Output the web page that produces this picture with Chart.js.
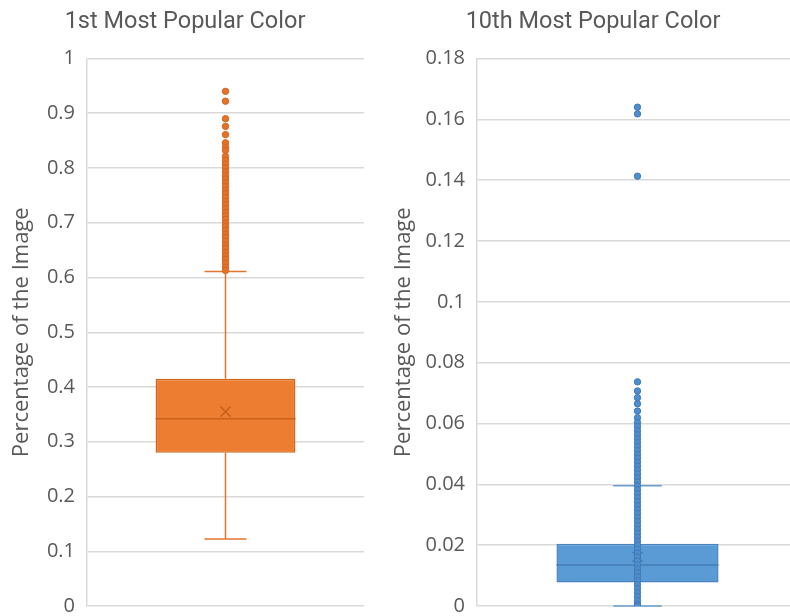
<!DOCTYPE html>
<html><head><meta charset="utf-8">
<script src="https://cdn.jsdelivr.net/npm/chart.js@4"></script>
<style>
html,body{margin:0;padding:0;background:#fff;overflow:hidden;width:790px;height:616px;position:relative}
#c1{position:absolute;left:0;top:0}
#c2{position:absolute;left:380px;top:0}
</style></head><body>
<canvas id="c1" width="370" height="616"></canvas>
<canvas id="c2" width="430" height="616"></canvas>
<script>
// ---- data ----
const chartTitles = ['1st Most Popular Color', '10th Most Popular Color'];
const axisTitle = 'Percentage of the Image';
const boxLow = [0.280, 0.0077];      // Q1
const boxHigh = [0.415, 0.0205];     // Q3
const medians = [0.342, 0.0135];
const means = [0.355, 0.0162];
const whiskerLow = [0.1225, 0.0];
const whiskerHigh = [0.611, 0.0395];
const yMax = [1, 0.18];
const yStep = [0.1, 0.02];
const outliers1st = [0.940, 0.922, 0.890, 0.876, 0.861, 0.846, 0.838, 0.832, 0.821, 0.814, 0.807, 0.800,
  0.793, 0.786, 0.780, 0.773, 0.766, 0.759, 0.753, 0.746, 0.739, 0.733, 0.726, 0.719, 0.713, 0.706,
  0.699, 0.693, 0.686, 0.679, 0.673, 0.666, 0.659, 0.653, 0.646, 0.639, 0.633, 0.626, 0.619, 0.613];
const outliers10th = [0.1640, 0.1618, 0.1413, 0.0737, 0.0707, 0.0685, 0.0665, 0.0641, 0.0619, 0.0603,
  0.0590, 0.0576, 0.0563, 0.0550, 0.0537, 0.0524, 0.0511, 0.0498, 0.0486, 0.0473, 0.0460, 0.0447,
  0.0434, 0.0421, 0.0408, 0.0395, 0.0382, 0.0369, 0.0356, 0.0343, 0.0330, 0.0317, 0.0304, 0.0291,
  0.0278, 0.0265, 0.0252, 0.0239, 0.0226, 0.0213, 0.0200, 0.0187, 0.0174, 0.0161, 0.0148, 0.0135,
  0.0122, 0.0109, 0.0096, 0.0083, 0.0070, 0.0057, 0.0044, 0.0031, 0.0018, 0.0006, 0.0000];
const outlierSets = [outliers1st, outliers10th];

// ---- styles ----
const styles = [
  {fill:'#ED7D31', border:'#D0691F', whisker:'#E2742B', median:'#C9631C', point:'#E57228', pointBorder:'#D0661E',
   canvas:'c1', padL:6, padR:6, axisW:81},
  {fill:'#5B9BD5', border:'#4A84BF', whisker:'#6C9ED2', median:'#467DB5', point:'#4F8DCB', pointBorder:'#3F7AB8',
   canvas:'c2', padL:8, padR:12, axisW:89}
];
const textColor = '#595959';
const gridColor = '#d9d9d9';

const boxExtras = {
  id: 'boxExtras',
  afterDatasetDraw(chart, args, o) {
    if (args.index !== 0) return;
    const bar = chart.getDatasetMeta(0).data[0];
    const y = chart.scales.y, ctx = chart.ctx;
    const cx = bar.x, half = bar.width / 2, cap = bar.width * 0.15;
    ctx.save();
    ctx.lineWidth = 1.5;
    ctx.strokeStyle = o.whisker;
    ctx.beginPath();
    ctx.moveTo(cx, y.getPixelForValue(o.q3)); ctx.lineTo(cx, y.getPixelForValue(o.hi));
    ctx.moveTo(cx, y.getPixelForValue(o.q1)); ctx.lineTo(cx, y.getPixelForValue(o.lo));
    ctx.moveTo(cx - cap, y.getPixelForValue(o.hi)); ctx.lineTo(cx + cap, y.getPixelForValue(o.hi));
    ctx.moveTo(cx - cap, y.getPixelForValue(o.lo)); ctx.lineTo(cx + cap, y.getPixelForValue(o.lo));
    ctx.stroke();
    ctx.strokeStyle = o.medianColor;
    ctx.beginPath();
    const my = y.getPixelForValue(o.median);
    ctx.moveTo(cx - half, my); ctx.lineTo(cx + half, my);
    const ay = y.getPixelForValue(o.mean), a = 5;
    ctx.moveTo(cx - a, ay - a); ctx.lineTo(cx + a, ay + a);
    ctx.moveTo(cx - a, ay + a); ctx.lineTo(cx + a, ay - a);
    ctx.stroke();
    ctx.restore();
  }
};

[0, 1].forEach(i => {
  const s = styles[i];
  new Chart(document.getElementById(s.canvas), {
    type: 'bar',
    data: {
      labels: ['A'],
      datasets: [
        {type:'bar', data:[[boxLow[i], boxHigh[i]]], backgroundColor:s.fill, borderColor:s.border,
         borderWidth:1.5, borderSkipped:false, barPercentage:0.505, categoryPercentage:1, grouped:false, order:2},
        {type:'line', data: outlierSets[i].map(v => ({x:'A', y:v})), showLine:false, pointRadius:3.2,
         pointBackgroundColor:s.point, pointBorderColor:s.pointBorder, pointBorderWidth:1, order:1}
      ]
    },
    plugins: [boxExtras],
    options: {
      responsive:false, animation:false,
      layout:{padding:{left:s.padL, right:s.padR, top:0, bottom:10}},
      plugins:{
        legend:{display:false}, tooltip:{enabled:false},
        title:{display:true, text:chartTitles[i], color:textColor,
          font:{family:'Roboto', size:23.5, weight:'normal'}, padding:{top:8, bottom:22.3}},
        boxExtras:{q1:boxLow[i], q3:boxHigh[i], median:medians[i], mean:means[i], lo:whiskerLow[i], hi:whiskerHigh[i],
          whisker:s.whisker, medianColor:s.median}
      },
      scales:{
        x:{type:'category', display:false, offset:true},
        y:{min:0, max:yMax[i],
          afterFit: sc => { sc.width = s.axisW; sc.paddingTop = 0; sc.paddingBottom = 0; },
          ticks:{stepSize:yStep[i], color:textColor, padding:12, font:{family:'Open Sans', size:20},
            callback: v => String(Number(v.toFixed(2)))},
          grid:{color:gridColor, lineWidth:1.5, drawTicks:false},
          border:{display:true, color:gridColor, width:1.5},
          title:{display:true, text:axisTitle, color:textColor, font:{family:'Open Sans', size:22}, padding:{top:3, bottom:0}}
        }
      }
    }
  });
});
</script>
</body></html>
